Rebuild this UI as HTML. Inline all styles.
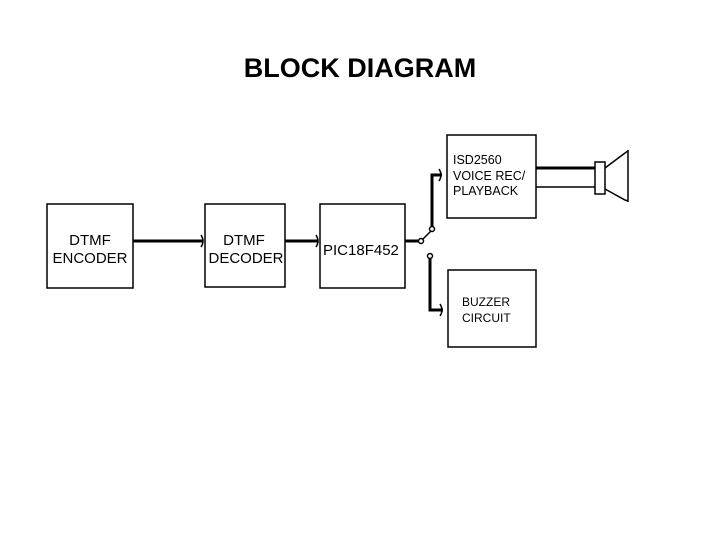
<!DOCTYPE html>
<html><head><style>
body{margin:0;width:720px;height:540px;background:#fff;overflow:hidden}
svg text{font-family:"Liberation Sans",sans-serif;fill:#000}
</style></head><body>
<svg width="720" height="540" viewBox="0 0 720 540" xmlns="http://www.w3.org/2000/svg">
<text x="360" y="77" font-size="27" font-weight="bold" text-anchor="middle">BLOCK DIAGRAM</text>
<g fill="none" stroke="#000" stroke-width="1.5">
<rect x="47" y="204" width="86" height="84"/>
<rect x="205" y="204" width="80" height="83"/>
<rect x="320" y="204" width="85" height="84"/>
<rect x="447" y="135" width="89" height="83"/>
<rect x="448" y="270" width="88" height="77"/>
<rect x="595" y="162" width="10" height="32"/>
<polyline points="605,168 625,153 628,151"/>
<polyline points="605,189 625,200 628,201"/>
<line x1="628" y1="150" x2="628" y2="202"/>
<line x1="536" y1="187" x2="595" y2="187"/>
<path d="M201,235 Q205,241 201,247 M316,235 Q320,241 316,247 M439,169 Q443,175 439,181 M440,304 Q444,310 440,316"/>
<circle cx="421" cy="241" r="2.5"/>
<circle cx="432" cy="229" r="2.5"/>
<circle cx="430" cy="256" r="2.5"/>
<line x1="423" y1="239" x2="431" y2="231"/>
</g>
<g fill="none" stroke="#000" stroke-width="3">
<line x1="133" y1="241" x2="203" y2="241"/>
<line x1="285" y1="241" x2="318" y2="241"/>
<line x1="405" y1="241" x2="418" y2="241"/>
<line x1="536" y1="168" x2="595" y2="168"/>
<polyline points="432,226 432,175 442,175"/>
<polyline points="430,259 430,310 443,310"/>
</g>
<g font-size="15">
<text x="90" y="245" text-anchor="middle">DTMF</text>
<text x="90" y="263" text-anchor="middle">ENCODER</text>
<text x="244" y="245" text-anchor="middle">DTMF</text>
<text x="246" y="263" text-anchor="middle">DECODER</text>
<text x="323" y="255" font-size="15">PIC18F452</text>
<text x="453" y="164" font-size="12.5">ISD2560</text>
<text x="453" y="180" font-size="12.5">VOICE REC/</text>
<text x="453" y="195" font-size="12.5">PLAYBACK</text>
<text x="462" y="306" font-size="12">BUZZER</text>
<text x="462" y="322" font-size="12">CIRCUIT</text>
</g>
</svg>
</body></html>
